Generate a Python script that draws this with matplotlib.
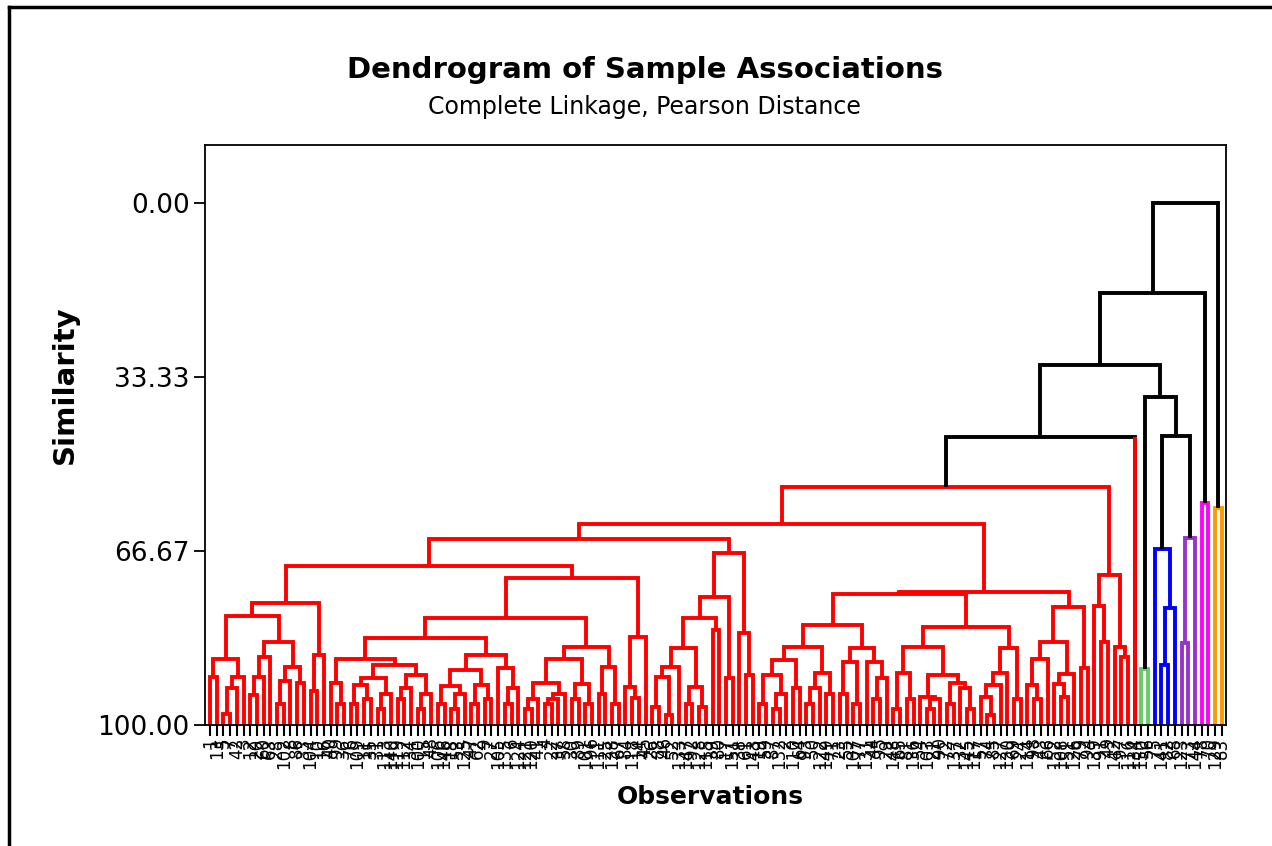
import matplotlib.pyplot as plt
from matplotlib.lines import Line2D

# ---- tree data: "(left,right)similarity", o = one observation ----
L1 = "((o,o)90.8,(((o,o)97.9,o)92.9,o)90.8)87.4"
L2 = "((((o,o)94.3,o)90.8,o)87.0,(((o,o)96.0,o)91.5,(o,o)92.0)88.9)84.1"
E2 = "((o,o)93.5,o)86.6"
E = f"(({L1},{L2})79.1,{E2})76.6"

Hl_left = "(o,(o,o)96.0)92.0"
hr1 = "(((o,o)96.0,(o,o)95.0)92.3,((o,o)97.0,o)94.0)91.0"
hr2 = "(((o,o)95.0,o)93.0,((o,o)97.0,o)94.0)90.5"
hl1 = "((o,o)96.0,((o,o)97.0,o)94.0)92.5"
hl2 = "((o,o)96.0,(o,o)95.0)92.3"
Hr_right = "(o,((o,o)96.0,o)93.0)89.1"
H = f"(({Hl_left},({hr1},{hr2})88.5)87.4,(({hl1},{hl2})89.5,{Hr_right})86.6)83.3"
g1 = "(((o,o)97.0,o)95.0,(((o,o)96.0,o)95.0,o)94.0)92.0"
g2 = "((o,o)95.0,(o,o)96.0)92.2"
Gr_right = "((o,o)94.0,(o,o)96.0)88.9"
G = f"({H},(({g1},{g2})87.4,{Gr_right})85.0)79.5"
Fr = "((o,(o,o)94.8)92.7,o)83.1"
D = f"({E},({G},{Fr})71.8)69.5"

M_left = "((((o,o)96.5,(o,o)98.0)90.8,o)88.9,((o,o)96.0,(o,o)96.5)92.7)85.2"
M = f"((({M_left},(o,o)81.8)79.5,(o,o)91.0)75.5,(o,(o,o)90.4)82.4)67.0"
C = f"({D},{M})64.4"

K1l_a = "((((o,o)96.0,((o,o)97.0,o)94.0)90.4,(o,o)93.0)87.5,(((o,o)96.0,o)93.0,(o,o)94.0)90.0)85.0"
K1l_b = "(((o,o)94.0,(o,o)96.0)88.0,(o,((o,o)95.0,o)91.0)88.0)85.2"
K1r_left = "(((o,o)97.0,(o,o)95.0)90.0,((o,((o,o)97.0,o)95.0)94.6,((o,o)96.0,(o,(o,o)97.0)93.0)92.0)90.4)85.0"
K1r_right = "((((o,(o,o)98.0)94.6,o)92.3,o)90.0,(o,o)95.0)85.2"
K2 = "((((o,(o,o)95.0)92.3,o)87.4,((o,(o,o)94.6)92.1,o)90.2)84.1,(o,o)89.1)77.4"
K = f"((({K1l_a},{K1l_b})80.8,({K1r_left},{K1r_right})81.2)74.9,{K2})74.5"
R = "((o,(o,o)84.1)77.2,(o,(o,o)87.0)85.0)71.3"
red_main = f"(({C},{K})61.5,{R})54.4"

green = "(o,o)89.3"
blue = "(o,((o,o)88.5,o)77.6)66.3"
purple = "((o,o)84.3,o)64.2"
magenta = "(o,o)57.5"
orange = "(o,o)58.4"

cluster_trees = [red_main, "o", green, blue, purple, magenta, orange]
cluster_colors = ['#ff0000', '#ff0000', '#66cc66', '#0000ff', '#9933cc', '#ff00ff', '#ff9900']
# how the clusters are joined (black links), leaves are cluster numbers
cluster_joins = "((((0,1)44.8,(2,(3,4)44.6)37.2)31.0,5)17.2,6)0.0"

obs_labels = [1, 13, 5, 7, 42, 3, 12, 20, 60, 63, 28, 102, 8, 86, 33, 104, 10, 16, 40, 99,
              36, 76, 109, 11, 35, 31, 113, 140, 119, 112, 34, 100, 15, 48, 106, 146, 18, 53, 125, 47,
              62, 9, 27, 105, 135, 6, 124, 121, 120, 41, 4, 22, 37, 58, 30, 89, 101, 96, 111, 25,
              138, 67, 84, 118, 14, 45, 26, 88, 46, 52, 133, 147, 92, 128, 115, 39, 80, 17, 151, 38,
              61, 143, 19, 59, 87, 132, 2, 110, 64, 93, 50, 122, 149, 71, 23, 55, 107, 77, 131, 44,
              95, 29, 148, 65, 81, 136, 54, 103, 21, 90, 72, 137, 32, 145, 117, 57, 74, 85, 127, 130,
              69, 24, 114, 98, 43, 66, 152, 108, 51, 126, 79, 94, 139, 91, 49, 142, 97, 116, 134, 150,
              56, 75, 141, 82, 68, 123, 73, 144, 78, 70, 129, 83]
sim_ticks = [0.0, 33.33, 66.67, 100.0]


def parse(s, i=0):
    if s[i] == '(':
        left, i = parse(s, i + 1)
        right, i = parse(s, i + 1)
        j = i + 1
        while j < len(s) and (s[j].isdigit() or s[j] == '.'):
            j += 1
        return (left, right, float(s[i + 1:j])), j
    j = i
    while j < len(s) and s[j] not in ',()':
        j += 1
    return s[i:j], j


LW = 2.8
fig = plt.figure(figsize=(12.72, 8.46), dpi=100)
ax = fig.add_axes([205 / 1272, 1 - 725 / 846, 1021 / 1272, 580 / 846])

n_leaf = [0]


def draw(node, color):
    if isinstance(node, str):
        x = n_leaf[0]
        n_leaf[0] += 1
        return x, 100.0
    l, r, h = node
    xl, hl = draw(l, color)
    xr, hr = draw(r, color)
    ax.plot([xl, xl, xr, xr], [hl, h, h, hr], color=color, lw=LW,
            solid_joinstyle='miter', solid_capstyle='butt')
    return (xl + xr) / 2, h


def draw_join(node):
    if isinstance(node, str):
        k = int(node)
        tree, _ = parse(cluster_trees[k])
        x, h = draw(tree, cluster_colors[k])
        return x, h, k
    l, r, h = node
    xl, hl, kl = draw_join(l)
    xr, hr, kr = draw_join(r)
    ax.plot([xl, xl, xr, xr], [hl, h, h, hr], color='black', lw=LW,
            solid_joinstyle='miter', solid_capstyle='butt')
    # single observation clusters keep their own colour
    for x0, h0, k in ((xl, hl, kl), (xr, hr, kr)):
        if k is not None and h0 == 100.0:
            ax.plot([x0, x0], [h0, h], color=cluster_colors[k], lw=LW, solid_capstyle='butt')
    return (xl + xr) / 2, h, None


joins, _ = parse(cluster_joins)
draw_join(joins)
n = n_leaf[0]

ax.set_xlim(-0.75, n - 1 + 0.64)
ax.set_ylim(100, -11.1)
ax.set_xticks(range(n))
ax.set_xticklabels([str(v) for v in obs_labels[:n]], rotation=90, fontsize=12)
ax.set_yticks(sim_ticks)
ax.set_yticklabels(['%.2f' % v for v in sim_ticks], fontsize=19)
ax.tick_params(axis='x', length=8, width=1.5, pad=1)
ax.tick_params(axis='y', length=8, width=1.3, pad=3)
for sp in ax.spines.values():
    sp.set_linewidth(1.3)

fig.text(0.507, 1 - 70 / 846, 'Dendrogram of Sample Associations', ha='center', va='center',
         fontsize=21, fontweight='bold')
fig.text(0.507, 1 - 107 / 846, 'Complete Linkage, Pearson Distance', ha='center', va='center',
         fontsize=17)
fig.text(65 / 1272, 1 - 385 / 846, 'Similarity', ha='center', va='center', rotation=90,
         fontsize=21, fontweight='bold')
fig.text(710 / 1272, 1 - 797 / 846, 'Observations', ha='center', va='center',
         fontsize=18, fontweight='bold')

# outer frame
fig.add_artist(Line2D([9 / 1272, 9 / 1272], [0, 1 - 7 / 846], color='black', lw=2.5))
fig.add_artist(Line2D([9 / 1272, 1], [1 - 7 / 846, 1 - 7 / 846], color='black', lw=2.5))

fig.savefig('out.png', dpi=100)
